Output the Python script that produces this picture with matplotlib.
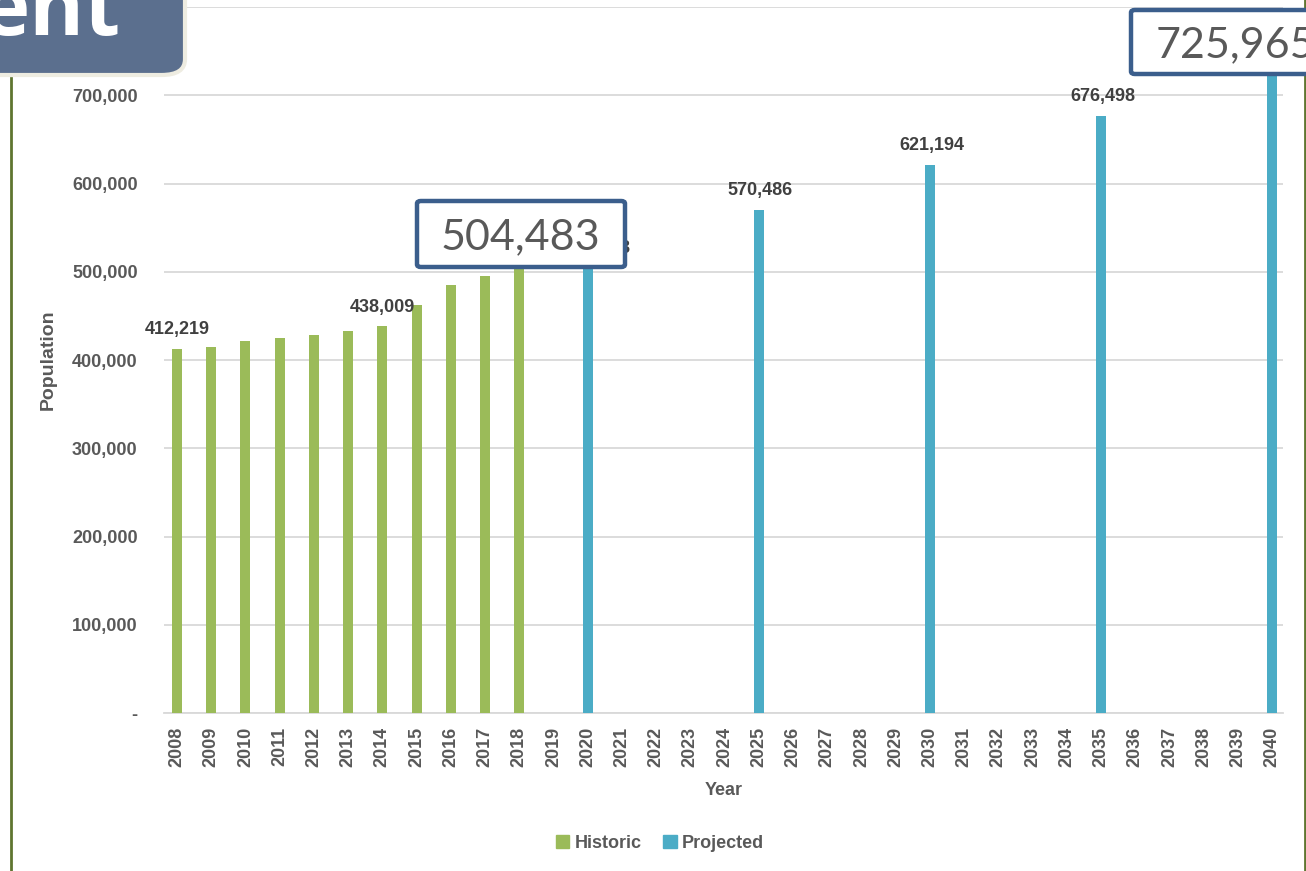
import numpy as np
import matplotlib
matplotlib.use("Agg")
import matplotlib.pyplot as plt
from matplotlib.patches import FancyBboxPatch, Patch
from matplotlib.lines import Line2D

# 数据
years = list(range(2008, 2041))
hist_years = [2008, 2009, 2010, 2011, 2012, 2013, 2014, 2015, 2016, 2017, 2018]
hist_vals = [412219, 414500, 422000, 424700, 428000, 432500, 438009, 462500, 485000, 495500, 503000]
proj_years = [2020, 2025, 2030, 2035, 2040]
proj_vals = [504483, 570486, 621194, 676498, 725965]
label_years = [2008, 2014]
yticks = [0, 100000, 200000, 300000, 400000, 500000, 600000, 700000]

GREEN = '#9BBB59'
BLUE = '#4BACC6'
GRAY = '#595959'
DARK = '#404040'

plt.rcParams['font.family'] = ['Liberation Sans Narrow', 'Liberation Sans', 'DejaVu Sans']

fig = plt.figure(figsize=(13.06, 8.71), dpi=100)
W, H = 1306, 871
ax = fig.add_axes([164 / W, 1 - 713 / H, (1283 - 164) / W, (713 - 7) / H])

pos = {y: i for i, y in enumerate(years)}
hx = [pos[y] for y in hist_years]
px = [pos[y] for y in proj_years]
ax.bar(hx, hist_vals, width=0.29, color=GREEN, zorder=3, label='Historic')
ax.bar(px, proj_vals, width=0.29, color=BLUE, zorder=3, label='Projected')

# 数据标签
for y, v in zip(hist_years, hist_vals):
    if y in label_years:
        ax.annotate(f'{v:,}', (pos[y], v), xytext=(0, 14), textcoords='offset points',
                    ha='center', va='center', fontsize=13, fontweight='bold', color=DARK)
for y, v in zip(proj_years, proj_vals):
    dx = 0.3 if y == 2020 else 0.05
    ax.annotate(f'{v:,}', (pos[y] + dx, v), xytext=(0, 14), textcoords='offset points',
                ha='center', va='center', fontsize=13, fontweight='bold', color=DARK)

ax.set_xlim(-0.38, 32.32)
ax.set_ylim(0, 800000)
ax.set_yticks(yticks + [800000])
ax.set_yticklabels(['-'] + [f'{v:,}' for v in yticks[1:]] + [''])
ax.set_xticks(range(len(years)))
ax.set_xticklabels([str(y) for y in years], rotation=90)
ax.tick_params(axis='both', length=0, labelsize=13, colors=GRAY)
ax.tick_params(axis='y', pad=19)
ax.tick_params(axis='x', pad=10)
for t in ax.get_xticklabels() + ax.get_yticklabels():
    t.set_fontweight('bold')
ax.grid(axis='y', color='#D9D9D9', lw=1.3, zorder=0)
for s in ['top', 'right', 'left']:
    ax.spines[s].set_visible(False)
ax.spines['bottom'].set_color('#D9D9D9')
ax.spines['bottom'].set_linewidth(1.3)
ax.set_xlabel('Year', fontsize=13, fontweight='bold', color=GRAY, labelpad=11)
ax.set_ylabel('Population', fontsize=14, fontweight='bold', color=GRAY)
ax.yaxis.set_label_coords((57 - 164) / (1283 - 164), 0.5)

handles = [Patch(color=GREEN, label='Historic'), Patch(color=BLUE, label='Projected')]
leg = fig.legend(handles=handles, loc='center', bbox_to_anchor=(660 / W, 1 - 843 / H), ncol=2,
                 frameon=False, fontsize=13, handlelength=0.75, handleheight=0.75,
                 handletextpad=0.3, columnspacing=1.2)
for t in leg.get_texts():
    t.set_color(GRAY)
    t.set_fontweight('bold')

# 边框线
fig.add_artist(Line2D([11 / W, 11 / W], [0, 1 - 78 / H], color='#5F7530', lw=2))
fig.add_artist(Line2D([1304.5 / W, 1304.5 / W], [0, 1], color='#5F7530', lw=2))

# 标题块
fig.add_artist(FancyBboxPatch((-40 / W, 1 - 75 / H), 225 / W, 120 / H,
                              boxstyle='round,pad=0,rounding_size=0.018',
                              transform=fig.transFigure, facecolor='#5B6F8E',
                              edgecolor='#EEECE1', lw=3, zorder=10))
fig.text(120 / W, 1 - 35 / H, 'ent', ha='right', va='baseline', fontsize=60,
         fontweight='bold', color='white', family=['Open Sans', 'DejaVu Sans'], zorder=11)

# 标注框
def callout(x0, y0, x1, y1, text, tx):
    fig.add_artist(FancyBboxPatch((x0 / W, 1 - y1 / H), (x1 - x0) / W, (y1 - y0) / H,
                                  boxstyle='round,pad=0,rounding_size=0.003',
                                  transform=fig.transFigure, facecolor='white',
                                  edgecolor='#3B5E8C', lw=3.2, zorder=10))
    fig.text(tx / W, 1 - (y0 + y1) / 2 / H, text, ha='left', va='center_baseline',
             fontsize=31, color=GRAY, family=['Lato', 'DejaVu Sans'], zorder=11)

callout(417, 201, 625, 267, '504,483', 441)
callout(1131, 10, 1340, 74, '725,965', 1156)

fig.savefig('out.png', dpi=100)
